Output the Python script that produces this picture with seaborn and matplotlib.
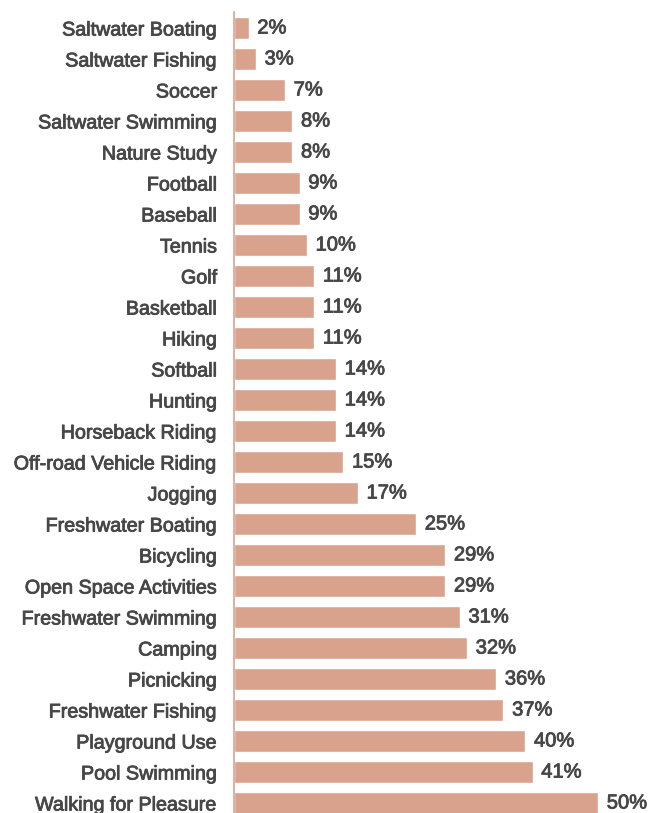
import matplotlib
matplotlib.use("Agg")
import matplotlib.pyplot as plt
import matplotlib.patheffects as pe
import seaborn as sns
import pandas as pd

activities = [
    "Saltwater Boating", "Saltwater Fishing", "Soccer", "Saltwater Swimming",
    "Nature Study", "Football", "Baseball", "Tennis", "Golf", "Basketball",
    "Hiking", "Softball", "Hunting", "Horseback Riding",
    "Off-road Vehicle Riding", "Jogging", "Freshwater Boating", "Bicycling",
    "Open Space Activities", "Freshwater Swimming", "Camping", "Picnicking",
    "Freshwater Fishing", "Playground Use", "Pool Swimming",
    "Walking for Pleasure",
]
percents = [2, 3, 7, 8, 8, 9, 9, 10, 11, 11, 11, 14, 14, 14, 15, 17, 25, 29,
            29, 31, 32, 36, 37, 40, 41, 50]

df = pd.DataFrame({"activity": activities, "pct": percents})

sns.set_theme(style="white")
plt.rcParams["font.family"] = ["Liberation Sans", "DejaVu Sans"]

bar_color = "#D9A28D"
text_color = "#474747"
# a thin outline in the text colour gives a medium weight between regular and bold
medium = [pe.withStroke(linewidth=0.6, foreground=text_color)]

fig = plt.figure(figsize=(6.57, 8.13), dpi=100)
ax = fig.add_axes([234 / 657, -5.5 / 813, 415 / 657, 806 / 813])

sns.barplot(data=df, y="activity", x="pct", orient="h", color=bar_color,
            saturation=1, width=0.68, ax=ax)

ax.set_xlim(0, 57)
ax.set_xlabel("")
ax.set_ylabel("")
ax.set_xticks([])
for side in ("top", "right", "bottom"):
    ax.spines[side].set_visible(False)
ax.spines["left"].set_color(bar_color)
ax.spines["left"].set_linewidth(1.2)

ax.tick_params(axis="y", length=0, pad=12, labelsize=14.2, labelcolor=text_color)
for lbl in ax.get_yticklabels():
    lbl.set_path_effects(medium)

for i, v in enumerate(percents):
    ax.text(v + 1.2, i, f"{v}%", va="center", ha="left", fontsize=14.5,
            color=text_color, path_effects=medium)

fig.savefig("out.png", dpi=100)
